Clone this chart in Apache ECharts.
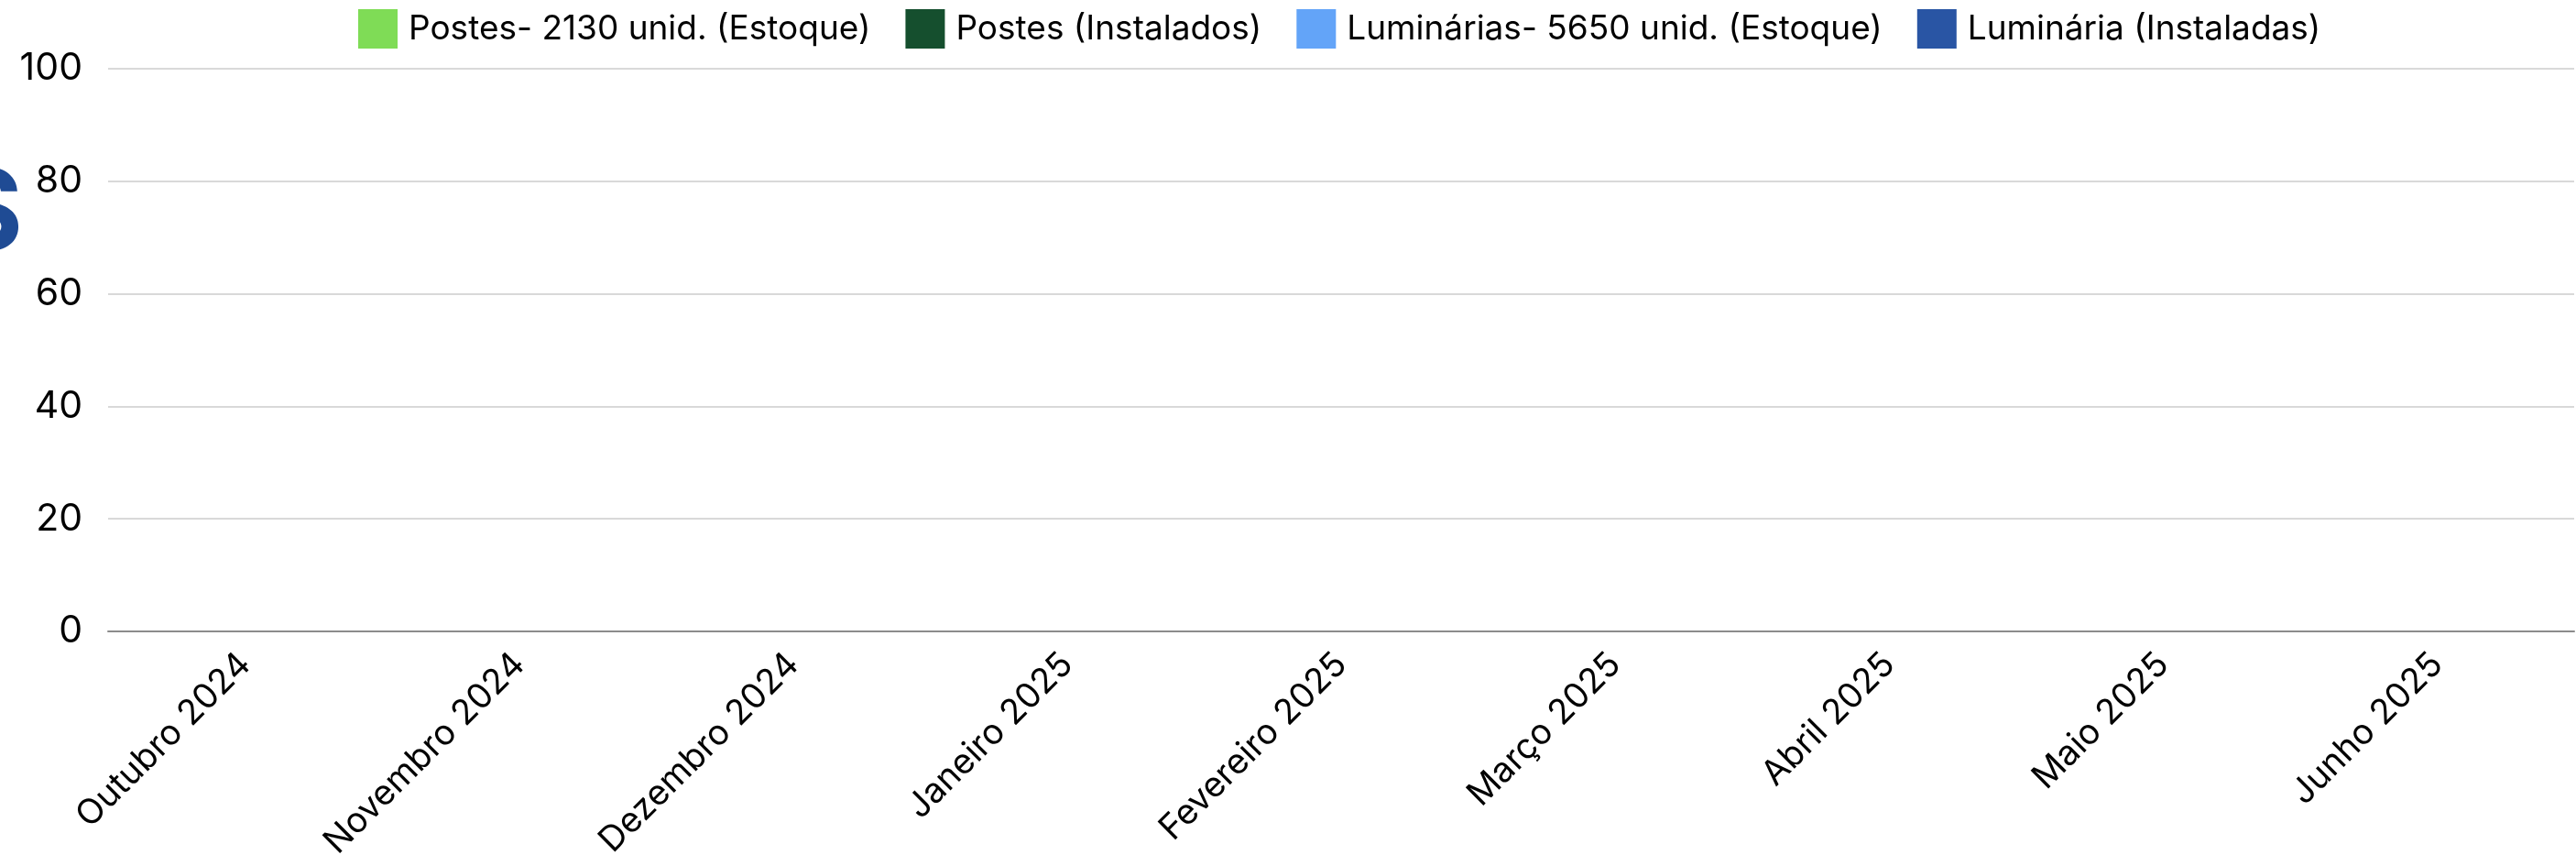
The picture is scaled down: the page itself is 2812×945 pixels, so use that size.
<!DOCTYPE html>
<html>
<head>
<meta charset="utf-8">
<script src="https://cdn.jsdelivr.net/npm/echarts@6/dist/echarts.min.js"></script>
<style>
  html, body { margin: 0; padding: 0; background: #fff; }
  #chart { width: 2812px; height: 945px; }
</style>
</head>
<body>
<div id="chart"></div>
<script>
const months = ['Outubro 2024', 'Novembro 2024', 'Dezembro 2024', 'Janeiro 2025', 'Fevereiro 2025',
  'Março 2025', 'Abril 2025', 'Maio 2025', 'Junho 2025'];
const seriesNames = ['Postes- 2130 unid. (Estoque)', 'Postes (Instalados)',
  'Luminárias- 5650 unid. (Estoque)', 'Luminária (Instaladas)'];
const seriesColors = ['#7fdc56', '#154f2e', '#63a4f8', '#2955a4'];
// nothing plotted yet in the reference, every month is empty
const postesEstoque = [0, 0, 0, 0, 0, 0, 0, 0, 0];
const postesInstalados = [0, 0, 0, 0, 0, 0, 0, 0, 0];
const luminariasEstoque = [0, 0, 0, 0, 0, 0, 0, 0, 0];
const luminariasInstaladas = [0, 0, 0, 0, 0, 0, 0, 0, 0];
const yTicks = [0, 20, 40, 60, 80, 100];

const values = [postesEstoque, postesInstalados, luminariasEstoque, luminariasInstaladas];
const font = 'Inter';

const chart = echarts.init(document.getElementById('chart'));

const option = {
  backgroundColor: '#fff',
  animation: false,
  color: seriesColors,
  legend: {
    top: 5,
    left: 386,
    itemWidth: 43,
    itemHeight: 43,
    itemGap: 38,
    icon: 'rect',
    textStyle: { fontFamily: font, fontSize: 37, color: '#000', padding: [0, 0, 0, 7] }
  },
  grid: { left: 118, right: 2, top: 75, bottom: 256, containLabel: false },
  xAxis: {
    type: 'category',
    data: months,
    axisLine: { lineStyle: { color: '#8c8c8c', width: 2 } },
    axisTick: { show: false },
    axisLabel: {
      rotate: 45,
      interval: 0,
      margin: 30,
      fontFamily: font,
      fontSize: 38,
      color: '#000'
    }
  },
  yAxis: {
    type: 'value',
    min: yTicks[0],
    max: yTicks[yTicks.length - 1],
    interval: yTicks[1] - yTicks[0],
    axisLine: { show: false },
    axisTick: { show: false },
    splitLine: { lineStyle: { color: '#d9d9d9', width: 2 } },
    axisLabel: { margin: 28, fontFamily: font, fontSize: 41, color: '#000' }
  },
  graphic: [{
    type: 'text',
    left: -56,
    top: 174,
    style: { text: 'S', fontFamily: font, fontWeight: 'bold', fontSize: 124, fill: '#1f4b94' }
  }],
  series: values.map((d, i) => ({
    name: seriesNames[i],
    type: 'bar',
    data: d
  }))
};

chart.setOption(option);
</script>
</body>
</html>
